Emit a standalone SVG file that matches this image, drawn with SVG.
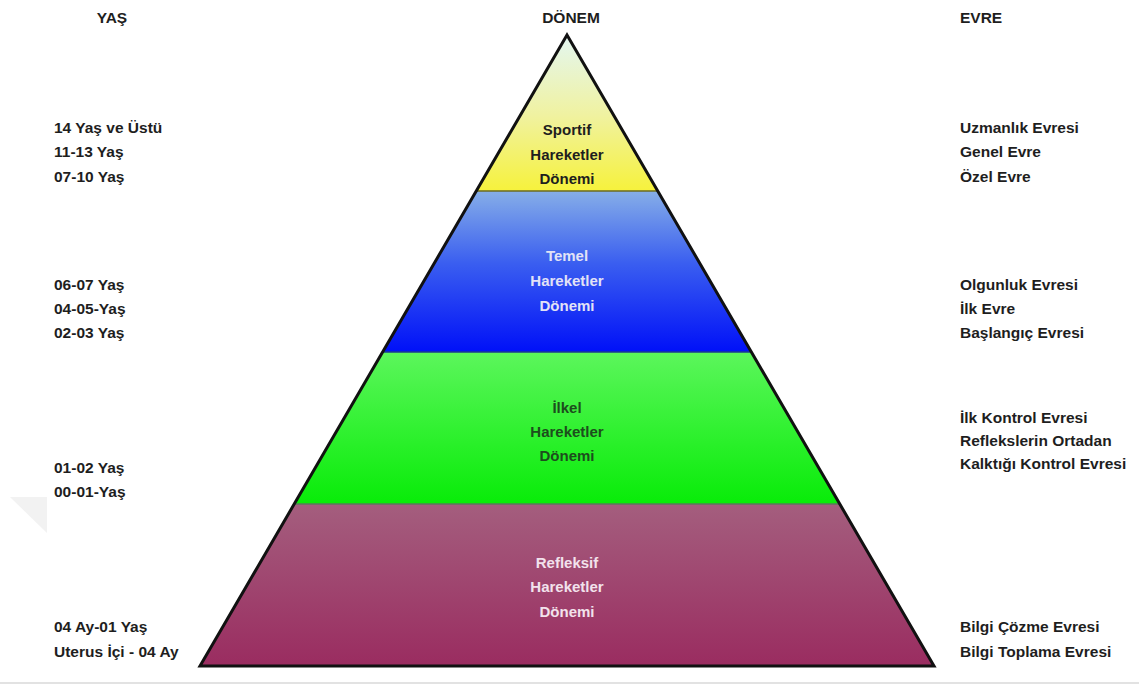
<svg xmlns="http://www.w3.org/2000/svg" width="1139" height="686" viewBox="0 0 1139 686">
<defs>
<linearGradient id="gY" gradientUnits="userSpaceOnUse" x1="0" y1="40" x2="0" y2="191">
<stop offset="0" stop-color="#e4f6ec"/><stop offset="0.5" stop-color="#f0f2a0"/><stop offset="1" stop-color="#f6f23c"/>
</linearGradient>
<linearGradient id="gB" gradientUnits="userSpaceOnUse" x1="0" y1="191" x2="0" y2="352">
<stop offset="0" stop-color="#86aee8"/><stop offset="0.45" stop-color="#3a5ef0"/><stop offset="1" stop-color="#0010f8"/>
</linearGradient>
<linearGradient id="gG" gradientUnits="userSpaceOnUse" x1="0" y1="352" x2="0" y2="504">
<stop offset="0" stop-color="#5cf65c"/><stop offset="1" stop-color="#08ec08"/>
</linearGradient>
<linearGradient id="gP" gradientUnits="userSpaceOnUse" x1="0" y1="504" x2="0" y2="666">
<stop offset="0" stop-color="#a45e7e"/><stop offset="1" stop-color="#9a2c60"/>
</linearGradient>
<style>
text{font-family:"Liberation Sans",Arial,sans-serif;font-weight:bold;font-size:15.5px;fill:#1e1e1e}
.c{text-anchor:middle;font-size:15px}
.lt{fill:#e2e2f6}
.dg{fill:#1d4d1d}
.pk{fill:#f2e2ec}
</style>
</defs>
<rect width="1139" height="686" fill="#fff"/>
<line x1="0" y1="683" x2="1139" y2="683" stroke="#e2e2e2" stroke-width="2"/>
<polygon points="10,497 47,497 47,533" fill="#f2f2f2"/>

<g id="headers">
<text x="112" y="23" class="c" style="font-size:15.5px">YAŞ</text>
<text x="571" y="23" class="c" style="font-size:15.5px">DÖNEM</text>
<text x="960" y="23">EVRE</text>
</g>

<g id="pyramid">
<g id="band-sportif">
<polygon points="567,35 657.7,191 476.3,191" fill="url(#gY)"/>
<text x="567" y="135" class="c">Sportif</text>
<text x="567" y="160" class="c">Hareketler</text>
<text x="567" y="184" class="c">Dönemi</text>
</g>
<g id="band-temel">
<polygon points="476.3,191 657.7,191 751.4,352 382.6,352" fill="url(#gB)"/>
<text x="567" y="261" class="c lt">Temel</text>
<text x="567" y="286" class="c lt">Hareketler</text>
<text x="567" y="311" class="c lt">Dönemi</text>
</g>
<g id="band-ilkel">
<polygon points="382.6,352 751.4,352 839.8,504 294.2,504" fill="url(#gG)"/>
<text x="567" y="413" class="c dg">İlkel</text>
<text x="567" y="437" class="c dg">Hareketler</text>
<text x="567" y="461" class="c dg">Dönemi</text>
</g>
<g id="band-refleksif">
<polygon points="294.2,504 839.8,504 934,666 200,666" fill="url(#gP)"/>
<text x="567" y="568" class="c pk">Refleksif</text>
<text x="567" y="592" class="c pk">Hareketler</text>
<text x="567" y="617" class="c pk">Dönemi</text>
</g>
</g>

<g id="connectors" fill="none">
<line x1="476.3" y1="191" x2="657.7" y2="191" stroke="#6a6a20" stroke-width="1.5"/>
<line x1="382.6" y1="352" x2="751.4" y2="352" stroke="#1a3a90" stroke-width="1.5"/>
<line x1="294.2" y1="504" x2="839.8" y2="504" stroke="#5a7a5a" stroke-width="1.5"/>
<polygon points="567,35 934,666 200,666" stroke="#111" stroke-width="3" stroke-linejoin="miter"/>
</g>

<g id="ages">
<text x="54" y="133">14 Yaş ve Üstü</text>
<text x="54" y="157">11-13 Yaş</text>
<text x="54" y="182">07-10 Yaş</text>
<text x="54" y="290">06-07 Yaş</text>
<text x="54" y="314">04-05-Yaş</text>
<text x="54" y="338">02-03 Yaş</text>
<text x="54" y="473">01-02 Yaş</text>
<text x="54" y="497">00-01-Yaş</text>
<text x="54" y="632">04 Ay-01 Yaş</text>
<text x="54" y="657">Uterus İçi - 04 Ay</text>
</g>

<g id="stages">
<text x="960" y="133">Uzmanlık Evresi</text>
<text x="960" y="157">Genel Evre</text>
<text x="960" y="182">Özel Evre</text>
<text x="960" y="290">Olgunluk Evresi</text>
<text x="960" y="314">İlk Evre</text>
<text x="960" y="338">Başlangıç Evresi</text>
<text x="960" y="423">İlk Kontrol Evresi</text>
<text x="960" y="446">Reflekslerin Ortadan</text>
<text x="960" y="469">Kalktığı Kontrol Evresi</text>
<text x="960" y="632">Bilgi Çözme Evresi</text>
<text x="960" y="657">Bilgi Toplama Evresi</text>
</g>
</svg>
